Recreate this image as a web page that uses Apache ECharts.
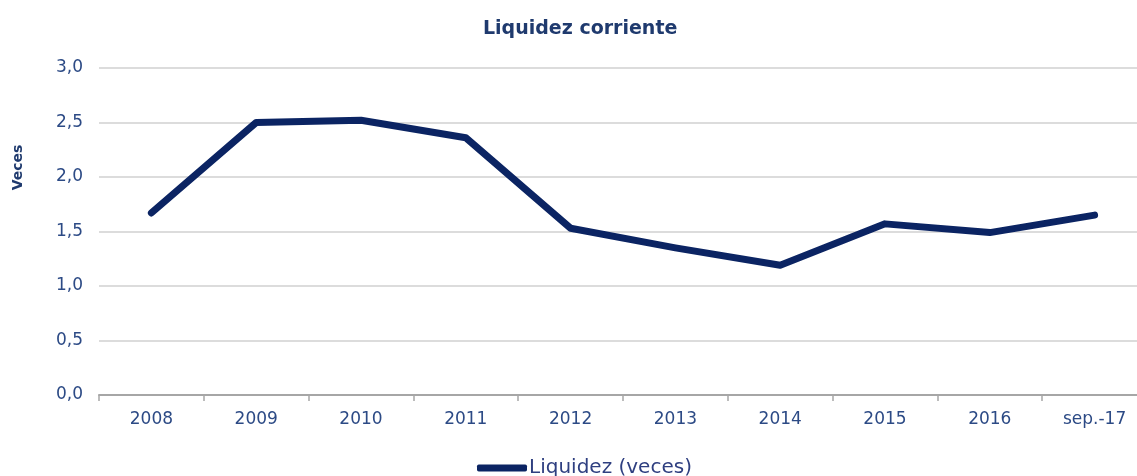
<!DOCTYPE html>
<html>
<head>
<meta charset="utf-8">
<script src="https://cdn.jsdelivr.net/npm/echarts@6/dist/echarts.min.js"></script>
<style>
  html, body { margin: 0; padding: 0; background: #fff; }
  #chart { width: 1137px; height: 476px; }
</style>
</head>
<body>
<div id="chart"></div>
<script>
// datos
var categories = ['2008', '2009', '2010', '2011', '2012', '2013', '2014', '2015', '2016', 'sep.-17'];
var liquidez = [1.67, 2.50, 2.52, 2.36, 1.53, 1.35, 1.19, 1.57, 1.49, 1.65];
var yTicks = [0, 0.5, 1.0, 1.5, 2.0, 2.5, 3.0];

var font = 'DejaVu Sans';
var labelColor = '#2c4a85';

var myChart = echarts.init(document.getElementById('chart'));
myChart.setOption({
    backgroundColor: '#ffffff',
    animation: false,
    title: {
        text: 'Liquidez corriente',
        left: 478,
        top: 15,
        textStyle: {
            fontFamily: font,
            fontSize: 19,
            fontWeight: 'bold',
            color: '#1f3a6e'
        }
    },
    legend: {
        data: ['Liquidez (veces)'],
        left: 472,
        top: 453,
        icon: 'roundRect',
        itemWidth: 50,
        itemHeight: 7,
        itemGap: 3,
        textStyle: {
            fontFamily: font,
            fontSize: 20,
            color: '#2f3f80',
            padding: [0, 0, 0, -3]
        }
    },
    grid: {
        left: 99,
        right: -10,
        top: 68,
        bottom: 81,
        outerBoundsMode: 'none'
    },
    xAxis: {
        type: 'category',
        data: categories,
        boundaryGap: true,
        axisLine: {
            lineStyle: { color: '#a6a6a6', width: 2 }
        },
        axisTick: {
            show: true,
            length: 6,
            lineStyle: { color: '#a6a6a6', width: 1.5 }
        },
        axisLabel: {
            fontFamily: font,
            fontSize: 17,
            color: labelColor,
            margin: 16
        },
        splitLine: { show: false }
    },
    yAxis: {
        type: 'value',
        min: yTicks[0],
        max: yTicks[yTicks.length - 1],
        interval: 0.5,
        name: 'Veces',
        nameLocation: 'middle',
        nameGap: 74,
        nameRotate: 90,
        nameTextStyle: {
            fontFamily: font,
            fontSize: 14,
            fontWeight: 'bold',
            color: '#1f3a6e',
            padding: [0, 0, 0, 128]
        },
        axisLine: { show: false },
        axisTick: { show: false },
        axisLabel: {
            fontFamily: font,
            fontSize: 17,
            color: labelColor,
            margin: 16,
            formatter: function (v) {
                return v.toFixed(1).replace('.', ',');
            }
        },
        splitLine: {
            lineStyle: { color: '#d0d0d0', width: 1.5 }
        }
    },
    series: [{
        name: 'Liquidez (veces)',
        type: 'line',
        data: liquidez,
        symbol: 'none',
        lineStyle: {
            color: '#0b2463',
            width: 7,
            cap: 'round',
            join: 'round'
        },
        itemStyle: { color: '#0b2463' }
    }]
});
</script>
</body>
</html>
